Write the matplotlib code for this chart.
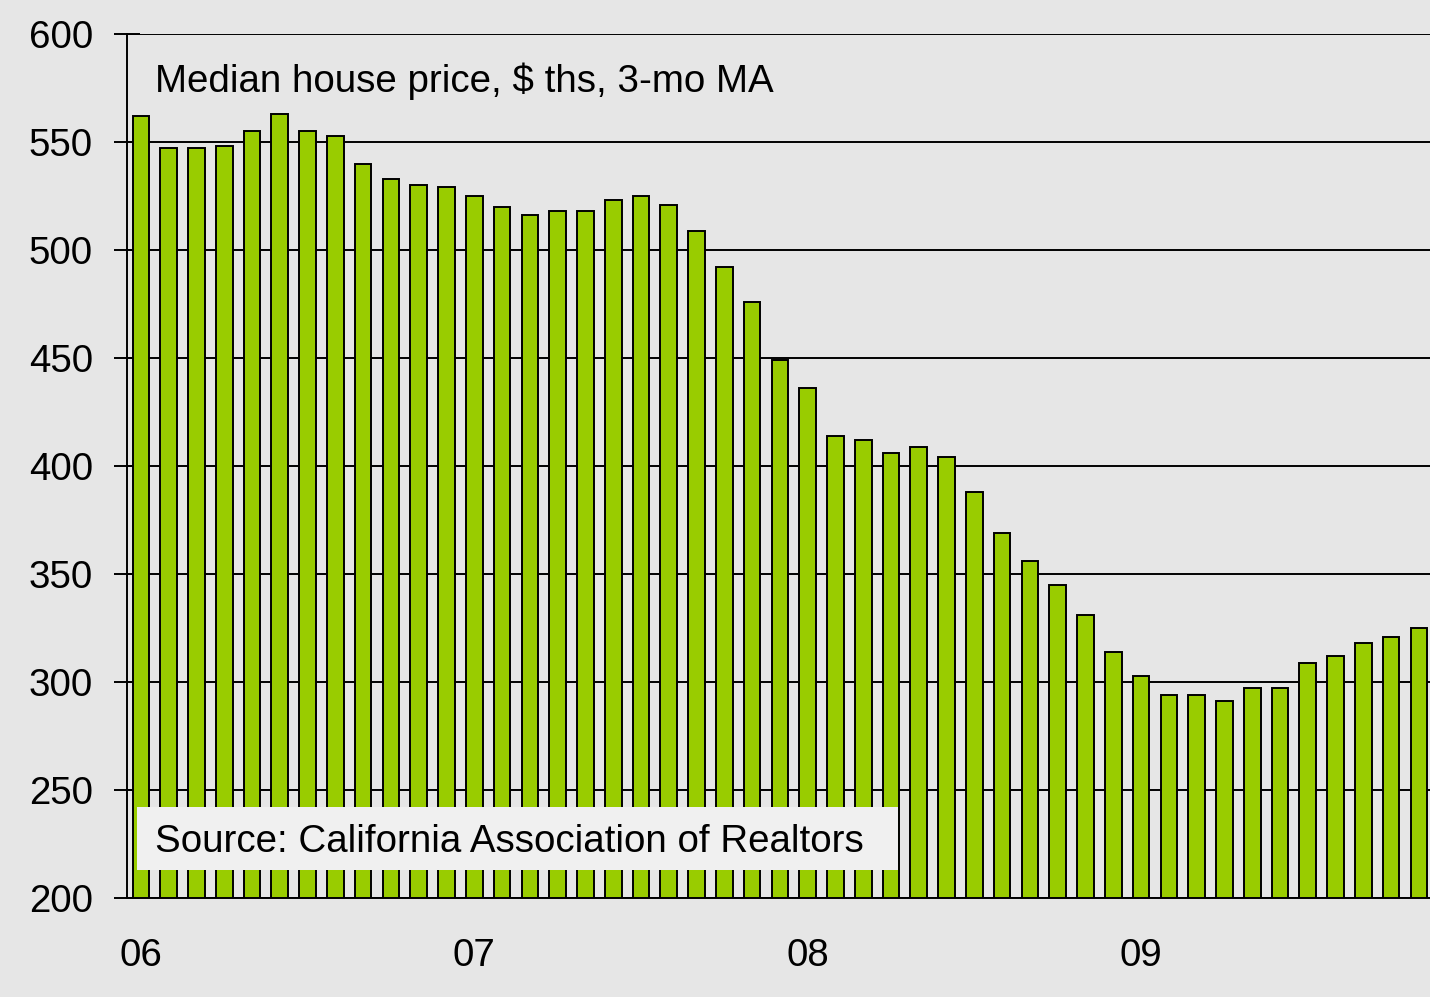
import matplotlib
matplotlib.use("Agg")
import matplotlib.pyplot as plt
from matplotlib.patches import Rectangle
import numpy as np

# Data: monthly median house price ($ ths, 3-mo MA), Jan 2006 - Nov 2009
prices = [562, 547, 547, 548, 555, 563, 555, 553, 540, 533, 530, 529,
          525, 520, 516, 518, 518, 523, 525, 521, 509, 492, 476, 449,
          436, 414, 412, 406, 409, 404, 388, 369, 356, 345, 331, 314,
          303, 294, 294, 291, 297, 297, 309, 312, 318, 321, 325]
year_labels = ["06", "07", "08", "09"]
year_positions = [0, 12, 24, 36]
y_ticks = [200, 250, 300, 350, 400, 450, 500, 550, 600]
title_text = "Median house price, $ ths, 3-mo MA"
source_text = "Source: California Association of Realtors"

plt.rcParams['font.family'] = ['Liberation Sans', 'DejaVu Sans']

W, H = 1430, 997
FS = 27.7
fig = plt.figure(figsize=(W / 100, H / 100), dpi=100)
bg = "#E6E6E6"
fig.patch.set_facecolor(bg)

ax = fig.add_axes([127 / W, 99 / H, (W - 127) / W, (898 - 34) / H])
ax.set_facecolor(bg)

x = np.arange(len(prices))
ax.bar(x, prices, width=0.6, color="#99CC00", edgecolor="black", linewidth=1.4, zorder=2)

ax.set_xlim(-0.5, 46.4)
ax.set_ylim(200, 600)
ax.set_yticks(y_ticks)
ax.set_yticklabels([str(v) for v in y_ticks], fontsize=FS)
ax.set_xticks(year_positions)
ax.set_xticklabels(year_labels, fontsize=FS)

ax.tick_params(axis='y', direction='inout', length=19, width=1.4, pad=15, colors='black')
ax.tick_params(axis='x', length=0, pad=29)

ax.set_axisbelow(True)
ax.yaxis.grid(True, color='black', linewidth=1.4)
ax.xaxis.grid(False)

for s in ['top', 'right']:
    ax.spines[s].set_visible(False)
ax.spines['left'].set_linewidth(1.4)
ax.spines['bottom'].set_linewidth(1.4)
ax.spines['bottom'].set_zorder(3)

fig.text(155 / W, 1 - 92 / H, title_text, fontsize=FS, va='baseline', ha='left')

rect = Rectangle((137 / W, 1 - 870 / H), (898 - 137) / W, (870 - 807) / H,
                 transform=fig.transFigure, facecolor="#F0F0F0", edgecolor='none', zorder=5)
fig.patches.append(rect)
fig.text(155 / W, 1 - 852 / H, source_text, fontsize=FS, va='baseline', ha='left', zorder=6)

fig.savefig("out.png", dpi=100, facecolor=bg)
